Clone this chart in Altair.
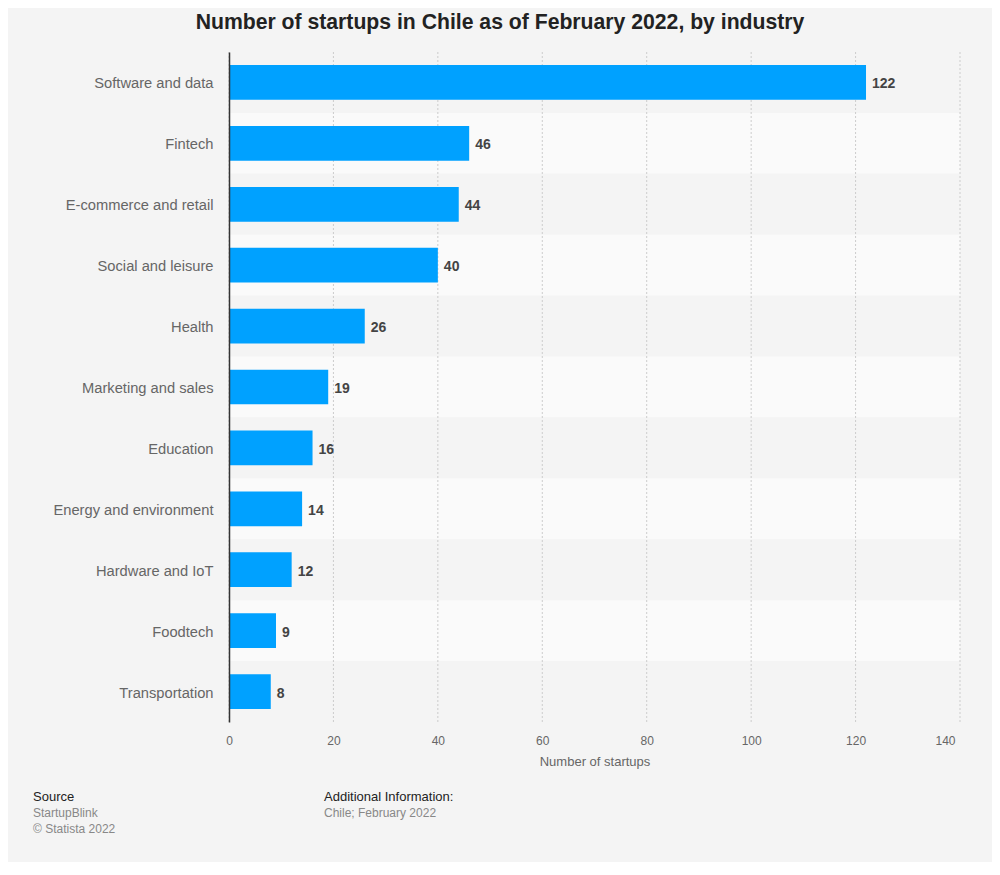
import altair as alt
import pandas as pd

categories = ["Software and data", "Fintech", "E-commerce and retail", "Social and leisure",
              "Health", "Marketing and sales", "Education", "Energy and environment",
              "Hardware and IoT", "Foodtech", "Transportation"]
values = [122, 46, 44, 40, 26, 19, 16, 14, 12, 9, 8]
x_ticks = [0, 20, 40, 60, 80, 100, 120, 140]

title_text = "Number of startups in Chile as of February 2022, by industry"
x_title = "Number of startups"
source_head = "Source"
source_lines = ["StartupBlink", "© Statista 2022"]
info_head = "Additional Information:"
info_lines = ["Chile; February 2022"]

W, H = 731, 670
FONT = "Liberation Sans"

df = pd.DataFrame({"Industry": categories, "Count": values,
                   "parity": [i % 2 for i in range(len(categories))]})
ticks_df = pd.DataFrame({"t": x_ticks})

xscale = alt.Scale(domain=[0, 140], nice=False, zero=True)
xaxis = alt.Axis(values=x_ticks, grid=False, domain=False, ticks=False,
                 labelColor="#666", labelFontSize=12, labelPadding=13, labelFont=FONT,
                 labelAlign=alt.expr("datum.value == 140 ? 'right' : 'center'"),
                 labelOffset=alt.expr("datum.value == 140 ? -5 : 0"),
                 title=x_title, titleColor="#666", titleFontSize=13, titleFontWeight="normal",
                 titleFont=FONT, titlePadding=9)

bands = alt.Chart(df).mark_rect().encode(
    y=alt.Y("Industry:N", sort=categories,
            scale=alt.Scale(paddingInner=0, paddingOuter=0), axis=None),
    x=alt.value(0), x2=alt.value(W),
    fill=alt.Fill("parity:N", scale=alt.Scale(domain=[0, 1], range=["#f4f4f4", "#fafafa"]),
                  legend=None),
)

grid = alt.Chart(ticks_df).mark_rule(color="#cccccc", strokeDash=[2, 2], strokeWidth=1).encode(
    x=alt.X("t:Q", scale=xscale, axis=xaxis),
    y=alt.value(0), y2=alt.value(H),
)

ybar_scale = alt.Scale(paddingInner=0.43, paddingOuter=0.215)

bars = alt.Chart(df).mark_bar(color="#00a1ff").encode(
    y=alt.Y("Industry:N", sort=categories, scale=ybar_scale,
            axis=alt.Axis(title=None, ticks=False, domain=True, domainColor="#333",
                          domainWidth=1.5, labelColor="#666", labelFontSize=14.7,
                          labelFont=FONT, labelPadding=16, labelOffset=2, zindex=1)),
    x=alt.X("Count:Q", scale=xscale),
)

labels = alt.Chart(df).mark_text(align="left", baseline="middle", dx=6, dy=2, fontSize=14,
                                 fontWeight="bold", color="#444", font=FONT).encode(
    y=alt.Y("Industry:N", sort=categories, scale=ybar_scale, axis=None),
    x=alt.X("Count:Q", scale=xscale),
    text="Count:Q",
)

def txt(s, x, y, size, color, weight="normal", align="left"):
    return alt.Chart(pd.DataFrame({"s": [s]})).mark_text(
        align=align, baseline="middle", fontSize=size, color=color, fontWeight=weight, font=FONT
    ).encode(text="s:N", x=alt.value(x), y=alt.value(y))

title = txt(title_text, 271, -29, 21.2, "#222", "bold", "center")
foot = [txt(source_head, -196, 745, 13, "#222"),
        txt(source_lines[0], -196, 761, 12, "#888"),
        txt(source_lines[1], -196, 777, 12, "#888"),
        txt(info_head, 95, 745, 13, "#222"),
        txt(info_lines[0], 95, 761, 12, "#888")]

chart = alt.layer(bands, grid, bars, labels, title, *foot).resolve_scale(
    y="independent"
).properties(
    width=W, height=H,
    autosize=alt.AutoSizeParams(type="none"),
    padding={"left": 221, "top": 44, "right": 32, "bottom": 140},
).configure(background="#f4f4f4").configure_view(stroke=None)

chart.save("out.html", embed_options={"renderer": "svg", "actions": False})
